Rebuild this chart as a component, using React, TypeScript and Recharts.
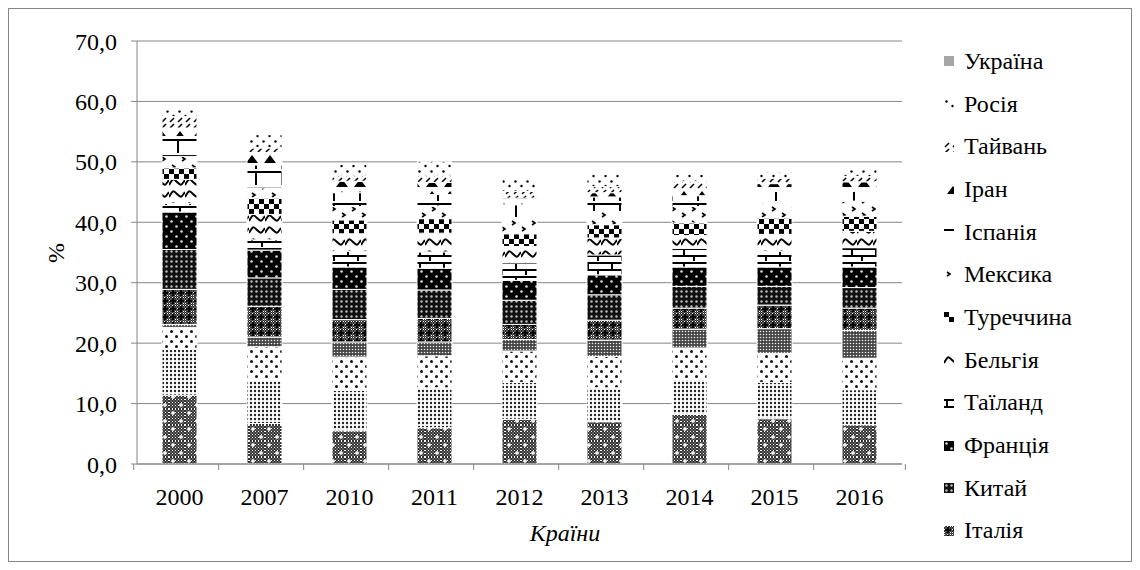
import React from 'react';
import { BarChart, Bar, XAxis, YAxis, CartesianGrid } from 'recharts';

const years = ['2000', '2007', '2010', '2011', '2012', '2013', '2014', '2015', '2016'];
const yTicks = [0, 10, 20, 30, 40, 50, 60, 70];

// series from the bottom of the stack upwards; the first four are not in the (cut) legend
const r1 = [11.4, 6.7, 5.5, 6.0, 7.4, 7.0, 8.2, 7.5, 6.5];
const r2 = [7.6, 7.2, 6.7, 6.6, 6.1, 5.6, 5.8, 6.0, 5.8];
const r3 = [3.6, 5.5, 5.5, 5.3, 5.2, 5.2, 5.2, 4.8, 5.2];
const r4 = [0.5, 1.6, 2.5, 2.3, 1.9, 2.7, 3.1, 4.1, 4.6];
const italy = [5.8, 5.1, 3.7, 3.9, 2.5, 3.3, 3.5, 3.9, 3.7];
const china = [6.6, 4.7, 5.0, 4.7, 4.0, 4.2, 3.6, 3.1, 3.4];
const france = [6.2, 4.6, 3.7, 3.6, 3.3, 3.3, 3.2, 3.2, 3.4];
const thailand = [1.4, 1.7, 2.6, 2.7, 2.9, 3.3, 3.1, 2.6, 3.2];
const belgium = [4.0, 4.2, 2.9, 3.1, 2.7, 2.8, 2.1, 2.8, 2.7];
const turkey = [1.9, 2.7, 2.3, 2.4, 2.1, 2.2, 2.1, 2.7, 2.5];
const mexico = [1.9, 1.7, 2.2, 2.1, 2.6, 2.2, 2.7, 2.5, 2.5];
const spain = [3.3, 3.8, 2.3, 1.9, 2.2, 2.4, 1.8, 1.9, 1.6];
const iran = [1.4, 2.0, 1.9, 2.0, 1.1, 0.7, 1.0, 1.3, 1.6];
const taiwan = [1.9, 0.8, 1.0, 1.2, 1.1, 1.0, 1.4, 0.9, 0.9];
const russia = [1.1, 2.2, 1.8, 2.2, 2.2, 2.0, 1.2, 1.0, 1.1];
const ukraine = [0, 0, 0, 0, 0, 0, 0, 0, 0];

const series = [
  { key: 'r1', name: 'Ряд 1', values: r1, legend: false },
  { key: 'r2', name: 'Ряд 2', values: r2, legend: false },
  { key: 'r3', name: 'Ряд 3', values: r3, legend: false },
  { key: 'r4', name: 'Ряд 4', values: r4, legend: false },
  { key: 'italy', name: 'Італія', values: italy, legend: true },
  { key: 'china', name: 'Китай', values: china, legend: true },
  { key: 'france', name: 'Франція', values: france, legend: true },
  { key: 'thailand', name: 'Таїланд', values: thailand, legend: true },
  { key: 'belgium', name: 'Бельгія', values: belgium, legend: true },
  { key: 'turkey', name: 'Туреччина', values: turkey, legend: true },
  { key: 'mexico', name: 'Мексика', values: mexico, legend: true },
  { key: 'spain', name: 'Іспанія', values: spain, legend: true },
  { key: 'iran', name: 'Іран', values: iran, legend: true },
  { key: 'taiwan', name: 'Тайвань', values: taiwan, legend: true },
  { key: 'russia', name: 'Росія', values: russia, legend: true },
  { key: 'ukraine', name: 'Україна', values: ukraine, legend: true },
];

const data = years.map((year, i) => {
  const row: Record<string, string | number> = { year };
  series.forEach((s) => { row[s.key] = s.values[i]; });
  return row;
});

const FONT = 'Liberation Serif, DejaVu Serif';
const FS = 24;
const AXIS = '#868686';
const CHART_W = 1122;
const CHART_H = 552;
const MARGIN = { top: 32, right: 229, bottom: 67, left: 68 };
const PLOT_W = CHART_W - MARGIN.left - MARGIN.right;

function Patterns() {
  return (
    <defs>
      <pattern id="grey4" width="3" height="3" patternUnits="userSpaceOnUse">
        <rect width="3" height="3" fill="#333" />
        <rect x="0" y="0" width="1" height="1" fill="#fff" />
        <rect x="1.5" y="1.5" width="1" height="1" fill="#ccc" />
      </pattern>
      <pattern id="p-r1" width="16" height="16" patternUnits="userSpaceOnUse">
        <rect width="16" height="16" fill="url(#grey4)" />
        <path d="M4 2v4M2 4h4M12 10v4M10 12h4" stroke="#fff" strokeWidth="1.4" />
      </pattern>
      <pattern id="p-r2" width="4" height="4" patternUnits="userSpaceOnUse">
        <rect width="4" height="4" fill="#fff" />
        <circle cx="2" cy="2" r="1.2" fill="#222" />
      </pattern>
      <pattern id="p-r3" width="10" height="10" patternUnits="userSpaceOnUse">
        <rect width="10" height="10" fill="#fff" />
        <circle cx="2.5" cy="2.5" r="1.5" fill="#111" />
        <circle cx="7.5" cy="7.5" r="1.5" fill="#111" />
      </pattern>
      <pattern id="p-r4" width="3" height="3" patternUnits="userSpaceOnUse">
        <rect width="3" height="3" fill="#444" />
        <circle cx="1.5" cy="1.5" r="0.8" fill="#eee" />
      </pattern>
      <pattern id="p-italy" width="8" height="8" patternUnits="userSpaceOnUse">
        <rect width="8" height="8" fill="url(#grey4)" />
        <path d="M4 1v6M1 4h6" stroke="#000" strokeWidth="2.2" />
      </pattern>
      <pattern id="p-china" width="5" height="5" patternUnits="userSpaceOnUse">
        <rect width="5" height="5" fill="#111" />
        <circle cx="2.5" cy="2.5" r="1.2" fill="#bbb" />
      </pattern>
      <pattern id="p-france" width="10" height="10" patternUnits="userSpaceOnUse">
        <rect width="10" height="10" fill="#000" />
        <circle cx="2.5" cy="2.5" r="1.3" fill="#ddd" />
        <circle cx="7.5" cy="7.5" r="1.3" fill="#ddd" />
      </pattern>
      <pattern id="p-thailand" width="24" height="14" patternUnits="userSpaceOnUse">
        <rect width="24" height="14" fill="#fff" />
        <rect x="0" y="1" width="24" height="2" fill="#000" />
        <rect x="0" y="8" width="24" height="2" fill="#000" />
        <rect x="2" y="1" width="2" height="8" fill="#000" />
        <rect x="12" y="8" width="2" height="6" fill="#000" />
      </pattern>
      <pattern id="p-belgium" width="16" height="12" patternUnits="userSpaceOnUse">
        <rect width="16" height="12" fill="#fff" />
        <path d="M0 8 C4 1 4 1 8 5 C12 9 12 9 16 3" stroke="#000" strokeWidth="2" fill="none" />
      </pattern>
      <pattern id="p-turkey" width="10" height="10" patternUnits="userSpaceOnUse">
        <rect width="10" height="10" fill="#fff" />
        <rect x="0" y="0" width="5" height="5" fill="#000" />
        <rect x="5" y="5" width="5" height="5" fill="#000" />
      </pattern>
      <pattern id="p-mexico" width="20" height="14" patternUnits="userSpaceOnUse">
        <rect width="20" height="14" fill="#fff" />
        <path d="M3 2l3 2-3 2M13 8l3 2-3 2" stroke="#000" strokeWidth="1.6" fill="none" />
      </pattern>
      <pattern id="p-spain" width="26" height="16" patternUnits="userSpaceOnUse">
        <rect width="26" height="16" fill="#fff" />
        <rect x="0" y="2" width="26" height="2" fill="#000" />
        <rect x="12" y="2" width="2" height="14" fill="#000" />
      </pattern>
      <pattern id="p-iran" width="18" height="12" patternUnits="userSpaceOnUse">
        <rect width="18" height="12" fill="#fff" />
        <polygon points="9,2 15,10 3,10" fill="#000" />
      </pattern>
      <pattern id="p-taiwan" width="8" height="6" patternUnits="userSpaceOnUse">
        <rect width="8" height="6" fill="#fff" />
        <path d="M1 5L5 1" stroke="#000" strokeWidth="1.6" />
      </pattern>
      <pattern id="p-russia" width="12" height="10" patternUnits="userSpaceOnUse">
        <rect width="12" height="10" fill="#fff" />
        <circle cx="2.5" cy="2.5" r="1.2" fill="#000" />
        <circle cx="8.5" cy="7" r="1.2" fill="#000" />
      </pattern>
      <pattern id="p-ukraine" width="4" height="4" patternUnits="userSpaceOnUse">
        <rect width="4" height="4" fill="#a6a6a6" />
      </pattern>
    </defs>
  );
}

function XTick(props: any) {
  const { x, y, payload, index } = props;
  const band = PLOT_W / years.length;
  return (
    <g>
      <line x1={x - band / 2} x2={x - band / 2} y1={y} y2={y + 6} stroke={AXIS} />
      {index === years.length - 1 && (
        <line x1={x + band / 2} x2={x + band / 2} y1={y} y2={y + 6} stroke={AXIS} />
      )}
      <text x={x} y={y + 41} textAnchor="middle" fontFamily={FONT} fontSize={FS} fill="#000">
        {payload.value}
      </text>
    </g>
  );
}

export default function App() {
  const legendItems = series.filter((s) => s.legend).slice().reverse();
  return (
    <div
      style={{
        position: 'relative',
        width: 1124,
        height: 554,
        boxSizing: 'border-box',
        border: `1px solid ${AXIS}`,
        background: '#fff',
        fontFamily: FONT,
      }}
    >
      <svg width="0" height="0" style={{ position: 'absolute' }}>
        <Patterns />
      </svg>
      <BarChart width={CHART_W} height={CHART_H} data={data} margin={MARGIN} barSize={35}>
        <Patterns />
        <CartesianGrid vertical={false} stroke={AXIS} strokeWidth={1} />
        <XAxis
          dataKey="year"
          stroke={AXIS}
          tickLine={false}
          tickSize={0}
          tickMargin={0}
          tick={<XTick />}
          interval={0}
          height={30}
        />
        <YAxis
          domain={[0, 70]}
          ticks={yTicks}
          stroke={AXIS}
          tickSize={6}
          tickMargin={14}
          width={60}
          tick={{ fill: '#000', fontFamily: FONT, fontSize: FS }}
          tickFormatter={(v: number) => v.toFixed(1).replace('.', ',')}
          allowDataOverflow
        />
        {series.map((s) => (
          <Bar
            key={s.key}
            dataKey={s.key}
            name={s.name}
            stackId="a"
            fill={`url(#p-${s.key})`}
            stroke="#fff"
            strokeWidth={1}
            isAnimationActive={false}
          />
        ))}
      </BarChart>
      <div
        style={{
          position: 'absolute',
          left: 47,
          top: 244,
          transform: 'translate(-50%, -50%) rotate(-90deg)',
          fontSize: FS,
        }}
      >
        %
      </div>
      <div
        style={{
          position: 'absolute',
          left: 556,
          top: 524,
          transform: 'translate(-50%, -50%)',
          fontSize: FS,
          fontStyle: 'italic',
        }}
      >
        Країни
      </div>
      <div style={{ position: 'absolute', left: 935, top: 31 }}>
        {legendItems.map((s) => (
          <div key={s.key} style={{ display: 'flex', alignItems: 'center', height: 42.7, fontSize: FS }}>
            <svg width={10} height={10} style={{ marginRight: 10 }}>
              <rect width={10} height={10} fill={`url(#p-${s.key})`} />
            </svg>
            <span>{s.name}</span>
          </div>
        ))}
      </div>
    </div>
  );
}
